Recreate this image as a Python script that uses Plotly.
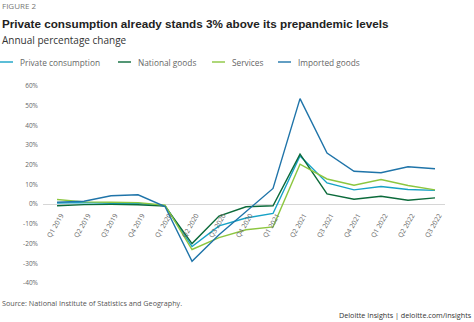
import plotly.graph_objects as go

quarters = ["Q1 2019", "Q2 2019", "Q3 2019", "Q4 2019", "Q1 2020", "Q2 2020", "Q3 2020",
            "Q4 2020", "Q1 2021", "Q2 2021", "Q3 2021", "Q4 2021", "Q1 2022", "Q2 2022", "Q3 2022"]
private_consumption = [0.6, 0.8, 0.5, 0.4, -0.8, -21.5, -11.0, -7.0, -4.7, 24.5, 10.8, 7.3, 9.0, 7.5, 7.0]
national_goods = [-0.8, -0.2, -0.1, -0.3, -1.0, -20.0, -6.0, -1.3, -0.8, 25.4, 5.2, 2.5, 4.0, 2.0, 3.2]
services = [2.4, 1.2, 1.0, 0.8, -0.5, -23.0, -17.0, -13.0, -11.5, 20.3, 12.8, 9.6, 12.5, 9.5, 7.3]
imported_goods = [1.0, 1.5, 4.3, 4.8, -1.2, -29.0, -15.5, -4.0, 8.0, 53.6, 26.0, 16.7, 16.0, 19.0, 18.0]
series_names = ["Private consumption", "National goods", "Services", "Imported goods"]
y_ticks = [-40, -30, -20, -10, 0, 10, 20, 30, 40, 50, 60]
y_tick_labels = [f"{v}%" for v in y_ticks]

colors = ["#16A2C6", "#0B6A3A", "#8CC63F", "#1F74A9"]
W, H = 474, 322
L, R, T, B = 43, 29, 86, 39
PW, PH = W - L - R, H - T - B
YMIN, YMAX = -40, 60


def px(x):
    return (x - L) / PW


def py(y):
    return (H - B - y) / PH


fig = go.Figure()
for name, vals, c in zip(series_names,
                         [private_consumption, national_goods, services, imported_goods], colors):
    fig.add_trace(go.Scatter(x=quarters, y=vals, mode="lines", name=name,
                             line=dict(color=c, width=1.4), showlegend=False))

font = "Open Sans, Liberation Sans, sans-serif"
fig.update_layout(
    width=W, height=H, margin=dict(l=L, r=R, t=T, b=B),
    paper_bgcolor="white", plot_bgcolor="white",
    font=dict(family=font, color="#666"),
    xaxis=dict(type="category", range=[-0.52, 14.37], showgrid=False, showline=False,
               ticks="", tickangle=-60, tickfont=dict(size=6.8, color="#666"),
               anchor="free", position=(0 - YMIN) / (YMAX - YMIN), ticklabelstandoff=5,
               ticklabelshift=4),
    yaxis=dict(range=[YMIN, YMAX], tickmode="array", tickvals=y_ticks, ticktext=y_tick_labels,
               showgrid=False, zeroline=True, zerolinecolor="#d6d6d6", zerolinewidth=1,
               showline=False, ticks="", tickfont=dict(size=6.5, color="#666"),
               ticklabelstandoff=4),
)

anns = [
    dict(text="FIGURE 2", x=px(0), y=py(6), size=8, color="#777", xanchor="left", family=font),
    dict(text="<b>Private consumption already stands 3% above its prepandemic levels</b>",
         x=px(0), y=py(23.5), size=11.7, color="#222", xanchor="left",
         family="Liberation Sans, Arial, sans-serif"),
    dict(text="Annual percentage change", x=px(0), y=py(40), size=10, color="#333",
         xanchor="left", family=font),
    dict(text="Source: National Institute of Statistics and Geography.", x=px(0), y=py(303),
         size=7.2, color="#555", xanchor="left", family=font),
    dict(text="Deloitte Insights | deloitte.com/insights", x=px(474), y=py(315),
         size=7.2, color="#333", xanchor="right", family=font),
]
for a in anns:
    fig.add_annotation(text=a["text"], x=a["x"], y=a["y"], xref="paper", yref="paper",
                       xanchor=a["xanchor"], yanchor="middle", showarrow=False,
                       font=dict(size=a["size"], color=a["color"], family=a["family"]))

# custom legend
leg_x = [0, 118, 212, 278]
for name, c, lx in zip(series_names, colors, leg_x):
    fig.add_shape(type="line", xref="paper", yref="paper", x0=px(lx), x1=px(lx + 13),
                  y0=py(62), y1=py(62), line=dict(color=c, width=1.4))
    fig.add_annotation(text=name, x=px(lx + 18), y=py(62), xref="paper", yref="paper",
                       xanchor="left", yanchor="middle", showarrow=False,
                       font=dict(size=8.3, color="#666", family=font))

fig.write_html("out.html")
